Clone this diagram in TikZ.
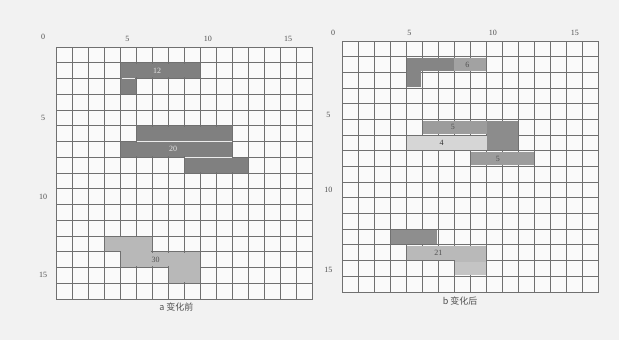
\documentclass[tikz,border=0pt]{standalone}
\usepackage{fontspec}
\setmainfont{Liberation Serif}
\newfontfamily\cjk{Noto Sans CJK SC}
\definecolor{bgc}{HTML}{F2F2F2}
\definecolor{cellc}{HTML}{FAFAFA}
\definecolor{gridc}{HTML}{707070}
\definecolor{darkc}{HTML}{808080}
\definecolor{lightc}{HTML}{B8B8B8}
\definecolor{rdark}{HTML}{858585}
\definecolor{rmid}{HTML}{A2A2A2}
\definecolor{rmidb}{HTML}{9C9C9C}
\definecolor{rblock}{HTML}{8C8C8C}
\definecolor{rlight}{HTML}{D6D6D6}
\definecolor{rbot}{HTML}{8E8E8E}
\definecolor{rbotl}{HTML}{B9B9B9}
\definecolor{rbotm}{HTML}{C4C4C4}
\definecolor{txtc}{HTML}{505050}
\tikzset{
  gridline/.style={draw=gridc, line width=1pt},
  axlabel/.style={font=\fontsize{8}{9}\selectfont, text=txtc, inner sep=0pt},
  barlabel/.style={font=\fontsize{8}{9}\selectfont, inner sep=0pt},
  caption/.style={font=\cjk\fontsize{9}{10}\selectfont, text=txtc, inner sep=0pt},
  sepline/.style={draw=white!85!gray, line width=0.7pt}
}
\begin{document}
\begin{tikzpicture}[x=1pt,y=-1pt]
\fill[bgc] (0,0) rectangle (619,340);
\useasboundingbox (0,0) rectangle (619,340);

% ---------------- left grid (a) ----------------
\begin{scope}[shift={(56pt,-47pt)}, x=16.06pt, y=-15.75pt]
  \fill[cellc] (0,0) rectangle (16,16);
  \fill[darkc] (4,1) rectangle (9,2);
  \fill[darkc] (4,2) rectangle (5,3);
  \fill[darkc] (5,5) rectangle (11,6);
  \fill[darkc] (4,6) rectangle (11,7);
  \fill[darkc] (8,7) rectangle (12,8);
  \fill[lightc] (3,12) rectangle (6,13);
  \fill[lightc] (4,13) rectangle (9,14);
  \fill[lightc] (7,14) rectangle (9,15);
  \foreach \i in {0,...,16} {
    \draw[gridline] (\i,0) -- (\i,16);
    \draw[gridline] (0,\i) -- (16,\i);
  }
  % cover interior grid lines of the bars
  \fill[darkc] (4.06,1.07) rectangle (8.94,1.93);
  \fill[darkc] (4.06,1.5) rectangle (4.94,2.93);
  \fill[darkc] (5.06,5.07) rectangle (10.94,6.5);
  \fill[darkc] (4.06,6.07) rectangle (10.94,6.93);
  \fill[darkc] (8.06,6.5) rectangle (10.94,7.5);
  \fill[darkc] (8.06,7.07) rectangle (11.94,7.93);
  \fill[lightc] (3.06,12.07) rectangle (5.94,12.93);
  \fill[lightc] (4.06,12.5) rectangle (5.94,13.5);
  \fill[lightc] (4.06,13.07) rectangle (8.94,13.93);
  \fill[lightc] (7.06,13.5) rectangle (8.94,14.93);
  \draw[sepline] (4.1,2) -- (4.9,2);
  \draw[sepline] (5.05,6) -- (10.95,6);
  \draw[sepline] (8.05,7) -- (10.95,7);
  \node[barlabel, text=white!80!gray] (la12) at (6.3,1.5) {12};
  \node[barlabel, text=white!80!gray] (la20) at (7.3,6.5) {20};
  \node[barlabel, text=txtc] (la30) at (6.2,13.5) {30};
  % axis labels
  \node[axlabel] (la0) at (-0.8,-0.62) {0};
  \node[axlabel] (lc5) at (4.45,-0.5) {5};
  \node[axlabel] (lc10) at (9.45,-0.5) {10};
  \node[axlabel] (lc15) at (14.45,-0.5) {15};
  \node[axlabel] (lr5) at (-0.8,4.5) {5};
  \node[axlabel] (lr10) at (-0.8,9.5) {10};
  \node[axlabel] (lr15) at (-0.8,14.5) {15};
  \node[caption] (capa) at (7.5,16.5) {a 变化前};
\end{scope}

% ---------------- right grid (b) ----------------
\begin{scope}[shift={(342pt,-41pt)}, x=16.06pt, y=-15.69pt]
  \fill[cellc] (0,0) rectangle (16,16);
  \foreach \i in {0,...,16} {
    \draw[gridline] (\i,0) -- (\i,16);
    \draw[gridline] (0,\i) -- (16,\i);
  }
  % top group
  \fill[rdark] (4.06,1.07) rectangle (7,1.93);
  \fill[rdark] (4.06,1.5) rectangle (4.94,2.93);
  \fill[rmid] (7,1.07) rectangle (8.94,1.93);
  \node[barlabel, text=txtc] (lb6) at (7.8,1.5) {6};
  % middle group
  \fill[rmidb] (5.06,5.07) rectangle (9,5.93);
  \fill[rblock] (9,5.07) rectangle (10.94,6.93);
  \fill[rlight] (4.06,6.07) rectangle (9,6.93);
  \fill[rmidb] (8.06,7.07) rectangle (11.94,7.93);
  \node[barlabel, text=txtc] (lb5a) at (6.9,5.5) {5};
  \node[barlabel, text=black!80] (lb4) at (6.2,6.5) {4};
  \node[barlabel, text=txtc] (lb5b) at (9.7,7.5) {5};
  % bottom group
  \fill[rbot] (3.06,12.07) rectangle (5.94,12.93);
  \fill[rbotl] (4.06,13.07) rectangle (8.94,13.93);
  \fill[rbotl] (7.06,13.5) rectangle (8.94,14.07);
  \fill[rbotm] (7.06,14.07) rectangle (8.94,14.93);
  \node[barlabel, text=txtc] (lb21) at (6.0,13.5) {21};
  % axis labels
  \node[axlabel] (lb0) at (-0.55,-0.5) {0};
  \node[axlabel] (rc5) at (4.2,-0.5) {5};
  \node[axlabel] (rc10) at (9.4,-0.5) {10};
  \node[axlabel] (rc15) at (14.5,-0.5) {15};
  \node[axlabel] (rr5) at (-0.85,4.7) {5};
  \node[axlabel] (rr10) at (-0.85,9.5) {10};
  \node[axlabel] (rr15) at (-0.85,14.6) {15};
  \node[caption] (capb) at (7.35,16.55) {b 变化后};
\end{scope}
\end{tikzpicture}
\end{document}
